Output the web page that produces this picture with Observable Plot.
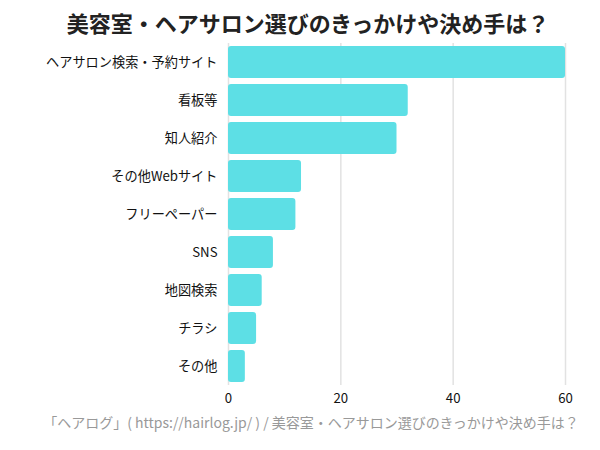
<!DOCTYPE html>
<html><head><meta charset="utf-8">
<script src="https://cdn.jsdelivr.net/npm/d3@7"></script>
<script src="https://cdn.jsdelivr.net/npm/@observablehq/plot@0.6"></script>
<style>
body{margin:0;background:#fff;font-family:"Noto Sans CJK JP","Noto Sans",sans-serif;}
#wrap{width:600px;}
#title{height:40px;line-height:44px;text-align:center;font-weight:bold;font-size:22px;color:#222;padding-left:16px;box-sizing:border-box;}
#cap{text-align:center;font-size:14px;color:#999;margin-top:2px;padding-left:22px;}
</style></head>
<body><div id="wrap">
<div id="title">美容室・ヘアサロン選びのきっかけや決め手は？</div>
<div id="chart"></div>
<div id="cap">「ヘアログ」( https://hairlog.jp/ ) / 美容室・ヘアサロン選びのきっかけや決め手は？</div>
</div>
<script>
const categories = ["ヘアサロン検索・予約サイト","看板等","知人紹介","その他Webサイト","フリーペーパー","SNS","地図検索","チラシ","その他"];
const values = [60, 32, 30, 13, 12, 8, 6, 5, 3];
const xTicks = [0, 20, 40, 60];
const data = categories.map((c, i) => ({category: c, value: values[i]}));

const chart = Plot.plot({
  width: 600,
  height: 370,
  marginLeft: 228,
  marginRight: 35,
  marginTop: 3,
  marginBottom: 25,
  style: {fontFamily: '"Noto Sans CJK JP","Noto Sans",sans-serif', fontSize: "13.2px", color: "#111", background: "#fff"},
  x: {domain: [0, 60], ticks: xTicks, label: null, tickSize: 0, tickPadding: 8},
  y: {domain: categories, label: null, tickSize: 0, tickPadding: 11, paddingInner: 0.15, paddingOuter: 0.05},
  marks: [
    Plot.gridX(xTicks, {stroke: "#e2e2e2", strokeOpacity: 1, strokeWidth: 1.5}),
    Plot.barX(data, {x: "value", y: "category", fill: "#5ddfe5", rx: 3}),
    Plot.axisX({ticks: xTicks, tickSize: 0, tickPadding: 8, label: null, fontSize: 13.2}),
    Plot.axisY({tickSize: 0, tickPadding: 11, label: null, fontSize: 13.2})
  ]
});
document.getElementById("chart").appendChild(chart);
</script>
</body></html>
